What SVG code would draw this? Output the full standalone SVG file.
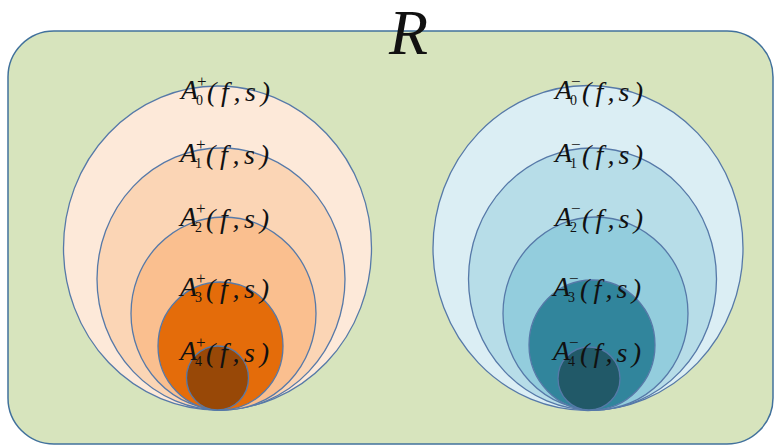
<svg xmlns="http://www.w3.org/2000/svg" width="775" height="447" viewBox="0 0 775 447">
<style>
.el{stroke:#5679a8;stroke-width:1.3}
.A{font-family:"Liberation Serif",serif;font-style:italic;font-size:28px;fill:#111}
.sup{font-family:"Liberation Serif",serif;font-size:17px;fill:#111}
.sub{font-family:"Liberation Serif",serif;font-size:14px;fill:#111}
.fs{font-family:"Liberation Serif",serif;font-style:italic;font-size:28px;fill:#111}
</style>
<rect width="775" height="447" fill="#ffffff"/>
<g id="R">
<rect x="8" y="31" width="765" height="413" rx="46" ry="46" fill="#d7e4bd" stroke="#41719c" stroke-width="1.5"/>
<text x="389" y="54" font-family="'Liberation Serif',serif" font-style="italic" font-size="64" fill="#111">R</text>
</g>
<g id="plus-sets">
<ellipse id="Ap0" class="el" cx="217.5" cy="248" rx="154" ry="162" fill="#fde9d9"/>
<ellipse id="Ap1" class="el" cx="221" cy="279" rx="124" ry="131" fill="#fbd5b5"/>
<ellipse id="Ap2" class="el" cx="223.5" cy="313.5" rx="92.5" ry="96.5" fill="#fabf8f"/>
<ellipse id="Ap3" class="el" cx="220.5" cy="346" rx="62.5" ry="64" fill="#e46c0a"/>
<ellipse id="Ap4" class="el" cx="217.5" cy="378" rx="31" ry="32" fill="#984807"/>
</g>
<g id="minus-sets">
<ellipse id="Am0" class="el" cx="588" cy="248" rx="155" ry="162.5" fill="#dbeef4"/>
<ellipse id="Am1" class="el" cx="592.5" cy="279" rx="124" ry="131" fill="#b7dde8"/>
<ellipse id="Am2" class="el" cx="595.5" cy="313.5" rx="92.5" ry="96.5" fill="#93cddd"/>
<ellipse id="Am3" class="el" cx="592" cy="345" rx="63" ry="65" fill="#31859c"/>
<ellipse id="Am4" class="el" cx="589" cy="378.5" rx="31" ry="31.5" fill="#215968"/>
</g>
<g id="labels-plus">
<g transform="translate(181,99)"><text class="A" x="0" y="0">A</text><text class="sup" x="16" y="-12">+</text><text class="sub" x="15" y="6">0</text><text class="fs" x="26" y="2" textLength="63" lengthAdjust="spacing">(f,s)</text></g>
<g transform="translate(180,162)"><text class="A" x="0" y="0">A</text><text class="sup" x="16" y="-12">+</text><text class="sub" x="15" y="6">1</text><text class="fs" x="26" y="2" textLength="63" lengthAdjust="spacing">(f,s)</text></g>
<g transform="translate(180,226)"><text class="A" x="0" y="0">A</text><text class="sup" x="16" y="-12">+</text><text class="sub" x="15" y="6">2</text><text class="fs" x="26" y="2" textLength="63" lengthAdjust="spacing">(f,s)</text></g>
<g transform="translate(180,296)"><text class="A" x="0" y="0">A</text><text class="sup" x="16" y="-12">+</text><text class="sub" x="15" y="6">3</text><text class="fs" x="26" y="2" textLength="63" lengthAdjust="spacing">(f,s)</text></g>
<g transform="translate(180,360)"><text class="A" x="0" y="0">A</text><text class="sup" x="16" y="-12">+</text><text class="sub" x="15" y="6">4</text><text class="fs" x="26" y="2" textLength="63" lengthAdjust="spacing">(f,s)</text></g>
</g>
<g id="labels-minus">
<g transform="translate(555,99)"><text class="A" x="0" y="0">A</text><text class="sup" x="16" y="-12">−</text><text class="sub" x="15" y="6">0</text><text class="fs" x="27" y="2" textLength="61" lengthAdjust="spacing">(f,s)</text></g>
<g transform="translate(555,162)"><text class="A" x="0" y="0">A</text><text class="sup" x="16" y="-12">−</text><text class="sub" x="15" y="6">1</text><text class="fs" x="27" y="2" textLength="61" lengthAdjust="spacing">(f,s)</text></g>
<g transform="translate(555,226)"><text class="A" x="0" y="0">A</text><text class="sup" x="16" y="-12">−</text><text class="sub" x="15" y="6">2</text><text class="fs" x="27" y="2" textLength="61" lengthAdjust="spacing">(f,s)</text></g>
<g transform="translate(553,296)"><text class="A" x="0" y="0">A</text><text class="sup" x="16" y="-12">−</text><text class="sub" x="15" y="6">3</text><text class="fs" x="27" y="2" textLength="61" lengthAdjust="spacing">(f,s)</text></g>
<g transform="translate(553,360)"><text class="A" x="0" y="0">A</text><text class="sup" x="16" y="-12">−</text><text class="sub" x="15" y="6">4</text><text class="fs" x="27" y="2" textLength="61" lengthAdjust="spacing">(f,s)</text></g>
</g>
</svg>
